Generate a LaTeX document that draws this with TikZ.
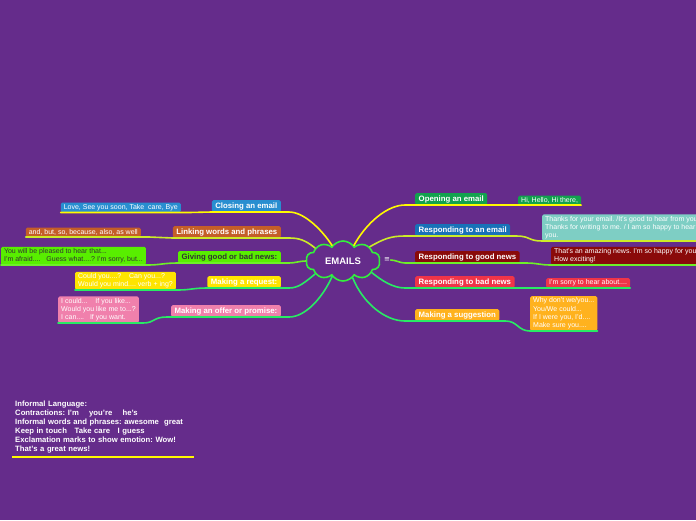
\documentclass[tikz,border=0pt]{standalone}
\usepackage{fontspec}
\setmainfont{Liberation Sans}
\newfontfamily\symfont{DejaVu Sans}
\usetikzlibrary{shapes.symbols}
\frenchspacing

\definecolor{fondo}{RGB}{101,44,139}
\definecolor{amarillo}{RGB}{255,250,0}
\definecolor{limon}{RGB}{205,235,40}
\definecolor{verdeclaro}{RGB}{110,240,40}
\definecolor{verde}{RGB}{40,235,100}
\definecolor{nube}{RGB}{50,240,60}
\definecolor{azul}{RGB}{40,142,208}
\definecolor{azuloscuro}{RGB}{24,114,184}
\definecolor{marron}{RGB}{196,94,40}
\definecolor{verdelima}{RGB}{88,238,0}
\definecolor{oro}{RGB}{255,228,0}
\definecolor{rosa}{RGB}{240,128,172}
\definecolor{verdehoja}{RGB}{18,162,78}
\definecolor{turquesa}{RGB}{126,206,196}
\definecolor{granate}{RGB}{138,10,10}
\definecolor{rojo}{RGB}{240,52,72}
\definecolor{naranja}{RGB}{255,178,30}
\definecolor{gris}{RGB}{50,50,50}

\tikzset{
  topic/.style={rounded corners=1.5pt, inner xsep=3.5pt, inner ysep=2.2pt,
    text height=5.6pt, text depth=1.6pt,
    font=\fontsize{7.8}{9}\selectfont\bfseries, text=white},
  leaf/.style={rounded corners=1.5pt, inner xsep=3pt, inner ysep=1.6pt,
    align=left, font=\fontsize{7}{8.3}\selectfont, text=white},
  branch/.style={line width=1.6pt, line cap=round, line join=round},
}

\begin{document}
\begin{tikzpicture}[x=1pt,y=-1pt]
        % Fondo
        \useasboundingbox (0,0) rectangle (696,520);
        \fill[fondo] (0,0) rectangle (696,520);
        \clip (0,0) rectangle (696,520);
        % Nube central
        \node[cloud, cloud puffs=10, cloud puff arc=115, cloud ignores aspect, draw=nube, line width=1.6pt,
              fill=fondo, minimum width=74pt, minimum height=40pt, inner sep=0pt, text=white,
              font=\fontsize{9.5}{11}\selectfont\bfseries] (emails) at (343,261) {EMAILS};
        \node[text=white, font=\symfont\fontsize{7}{8}\selectfont, inner sep=0.5pt] (menu) at (387,260) {≡};
        % Ramas de la izquierda
        \node[topic, fill=azul, anchor=south east] (close) at (281,212) {Closing an email};
        \node[topic, fill=marron, anchor=south east] (link) at (281,238) {Linking words and phrases};
        \node[topic, fill=verdelima, text=gris, anchor=south east] (news) at (281,263) {Giving good or bad news:};
        \node[topic, fill=oro, anchor=south east] (ask) at (281,288) {Making a request:};
        \node[topic, fill=rosa, anchor=south east] (offer) at (281,317) {Making an offer or promise:};
        \node[leaf, fill=azul, anchor=south east] (closeleaf) at (181,212.5) {Love, See you soon, Take~ care, Bye};
        \node[leaf, fill=marron, anchor=south east] (linkleaf) at (141,237) {and, but, so, because, also, as well};
        \node[leaf, fill=verdelima, text=gris, anchor=south east] (newsleaf) at (146,265)
             {You will be pleased to hear that...\\I'm afraid....~~ Guess what....? I'm sorry, but...};
        \node[leaf, fill=oro, anchor=south east] (askleaf) at (176,290)
             {Could you....?~~~ Can you...?\\Would you mind.... verb + ing?};
        \node[leaf, fill=rosa, anchor=south east] (offerleaf) at (139,323)
             {I could...~~~ If you like...\\Would you like me to...?\\I can....~~ If you want.};
        % Ramas de la derecha
        \node[topic, fill=verdehoja, anchor=south west] (open) at (415,205) {Opening an email};
        \node[topic, fill=azuloscuro, anchor=south west] (reply) at (415,236) {Responding to an email};
        \node[topic, fill=granate, anchor=south west] (good) at (415,263) {Responding to good news};
        \node[topic, fill=rojo, anchor=south west] (bad) at (415,288) {Responding to bad news};
        \node[topic, fill=naranja, anchor=south west] (suggest) at (415,321) {Making a suggestion};
        \node[leaf, fill=verdehoja, anchor=south west] (openleaf) at (518,205) {Hi, Hello, Hi there,};
        \node[leaf, fill=turquesa, anchor=south west] (replyleaf) at (542,241)
             {Thanks for your email. /It's good to hear from you\\Thanks for writing to me. / I am so happy to hear\\you.};
        \node[leaf, fill=granate, anchor=south west] (goodleaf) at (551,265)
             {That's an amazing news. I'm so happy for you\\How exciting!};
        \node[leaf, fill=rojo, anchor=south west] (badleaf) at (546,288) {I'm sorry to hear about....};
        \node[leaf, fill=naranja, anchor=south west] (suggestleaf) at (530,331)
             {Why don't we/you...\\You/We could...\\If I were you, I'd....\\Make sure you....};
        % Conectores
        \draw[branch, amarillo] (emails.125) .. controls +(-12,-18) and +(14,0) .. ([xshift=8pt]close.south east)
             -- (close.south west) .. controls +(-12,0) and +(12,0) .. ([xshift=8pt]closeleaf.south east) -- (closeleaf.south west);
        \draw[branch, limon] (emails.155) .. controls +(-10,-8) and +(10,0) .. ([xshift=8pt]link.south east)
             -- (link.south west) .. controls +(-12,0) and +(12,0) .. ([xshift=8pt]linkleaf.south east) -- (linkleaf.south west);
        \draw[branch, verdeclaro] (emails.180) .. controls +(-6,0) and +(6,0) .. ([xshift=8pt]news.south east)
             -- (news.south west) .. controls +(-14,0) and +(12,0) .. ([xshift=2pt]newsleaf.south east) -- (newsleaf.south west);
        \draw[branch, verde] (emails.205) .. controls +(-10,8) and +(10,0) .. ([xshift=8pt]ask.south east)
             -- (ask.south west) .. controls +(-14,0) and +(12,0) .. ([xshift=2pt]askleaf.south east) -- (askleaf.south west);
        \draw[branch, verde] (emails.235) .. controls +(-10,22) and +(16,0) .. ([xshift=8pt]offer.south east)
             -- ([xshift=-4pt]offer.south west) .. controls +(-14,0) and +(12,0) .. ([xshift=4pt]offerleaf.south east) -- (offerleaf.south west);
        \draw[branch, amarillo] (emails.55) .. controls +(12,-22) and +(-18,0) .. ([xshift=-10pt]open.south west)
             -- (open.south east) .. controls +(12,0) and +(-12,0) .. (openleaf.south west) -- (openleaf.south east);
        \draw[branch, limon] (emails.28) .. controls +(14,-8) and +(-14,0) .. ([xshift=-10pt]reply.south west)
             -- ([xshift=6pt]reply.south east) .. controls +(14,0) and +(-14,0) .. (replyleaf.south west) -- (replyleaf.south east);
        \draw[branch, verdeclaro] (menu.east) .. controls +(5,0) and +(-5,0) .. ([xshift=-10pt]good.south west)
             -- ([xshift=6pt]good.south east) .. controls +(12,0) and +(-12,0) .. (goodleaf.south west) -- (goodleaf.south east);
        \draw[branch, verde] (emails.-22) .. controls +(10,8) and +(-12,0) .. ([xshift=-10pt]bad.south west)
             -- (bad.south east) .. controls +(12,0) and +(-12,0) .. (badleaf.south west) -- (badleaf.south east);
        \draw[branch, verde] (emails.-60) .. controls +(10,25) and +(-20,0) .. ([xshift=-10pt]suggest.south west)
             -- ([xshift=6pt]suggest.south east) .. controls +(12,0) and +(-12,0) .. (suggestleaf.south west) -- (suggestleaf.south east);
        % Nota de lenguaje informal
        \node[anchor=north west, text width=176pt, align=left, inner xsep=3pt, inner ysep=2pt, text=white,
              font=\fontsize{7.7}{9}\selectfont\bfseries] (informal) at (12,399)
             {Informal Language:\\Contractions: I'm~~~ you're~~~ he's\\Informal words and phrases: awesome~ great\\
              Keep in touch~~ Take care~~ I guess\\Exclamation marks to show emotion: Wow!\\That's a great news!};
        \draw[branch, amarillo, line cap=butt] ([yshift=-1.5pt]informal.south west) -- ([yshift=-1.5pt]informal.south east);
\end{tikzpicture}
\end{document}
